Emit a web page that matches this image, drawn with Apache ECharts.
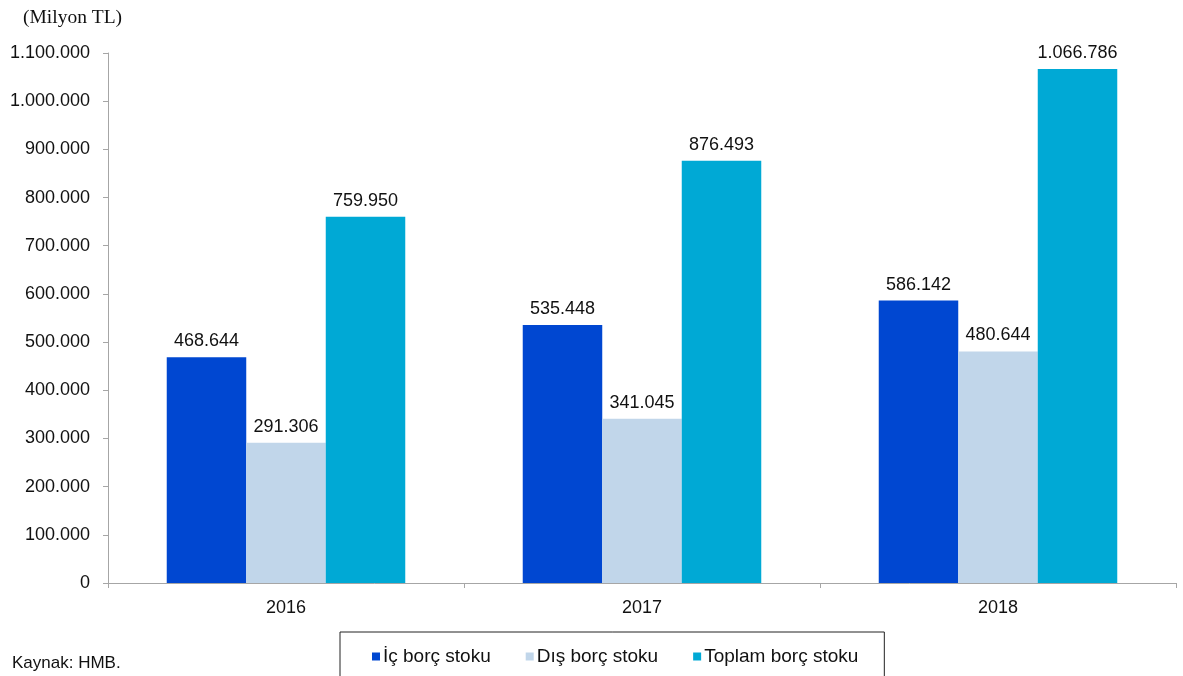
<!DOCTYPE html>
<html>
<head>
<meta charset="utf-8">
<script src="https://cdn.jsdelivr.net/npm/echarts@6/dist/echarts.min.js"></script>
<style>
  html, body { margin: 0; padding: 0; background: #fff; }
  #chart { width: 1183px; height: 676px; }
</style>
</head>
<body>
<div id="chart"></div>
<script>
const years = ['2016', '2017', '2018']
const icBorc = [468644, 535448, 586142]
const disBorc = [291306, 341045, 480644]
const toplamBorc = [759950, 876493, 1066786]
const seriesNames = ['İç borç stoku', 'Dış borç stoku', 'Toplam borç stoku']
const colors = ['#0047d1', '#c1d6ea', '#00a9d5']

// binlik ayraç nokta
function fmt (v) {
  return String(v).replace(/\B(?=(\d{3})+(?!\d))/g, '.')
}

const font = 'Liberation Sans, Arial, sans-serif'

const chart = echarts.init(document.getElementById('chart'))

const series = [icBorc, disBorc, toplamBorc].map((data, i) => ({
  name: seriesNames[i],
  type: 'bar',
  data: data,
  barGap: '0%',
  barCategoryGap: '33%',
  itemStyle: { color: colors[i] },
  label: {
    show: true,
    position: 'top',
    distance: 7,
    color: '#111',
    fontFamily: font,
    fontSize: 18,
    formatter: p => fmt(p.value)
  }
}))

chart.setOption({
  animation: false,
  textStyle: { fontFamily: font },
  graphic: [
    {
      type: 'text',
      left: 23,
      top: 8,
      style: { text: '(Milyon TL)', font: '19.5px "Liberation Serif", "Times New Roman", serif', fill: '#111' }
    },
    {
      type: 'text',
      left: 12,
      top: 655,
      style: { text: 'Kaynak: HMB.', font: '17px ' + font, fill: '#111' }
    }
  ],
  legend: {
    data: seriesNames,
    left: 340,
    top: 632,
    icon: 'rect',
    itemWidth: 8,
    itemHeight: 8,
    itemGap: 35,
    padding: [15, 26, 20, 32],
    borderColor: '#222',
    borderWidth: 1,
    textStyle: { color: '#111', fontSize: 19, fontFamily: font, padding: [0, 0, 0, -2] }
  },
  grid: {
    left: 108,
    right: 7,
    top: 53,
    bottom: 93
  },
  xAxis: {
    type: 'category',
    data: years,
    axisLine: { lineStyle: { color: '#a6a6a6', width: 1 } },
    axisTick: { show: true, length: 5, lineStyle: { color: '#a6a6a6' } },
    axisLabel: { color: '#111', fontSize: 18, fontFamily: font, margin: 16 }
  },
  yAxis: {
    type: 'value',
    min: 0,
    max: 1100000,
    interval: 100000,
    axisLine: { show: true, lineStyle: { color: '#a6a6a6', width: 1 } },
    axisTick: { show: true, length: 5, lineStyle: { color: '#a6a6a6' } },
    splitLine: { show: false },
    axisLabel: {
      color: '#111',
      fontSize: 18,
      fontFamily: font,
      margin: 18,
      formatter: v => fmt(v)
    }
  },
  series: series
})
</script>
</body>
</html>
